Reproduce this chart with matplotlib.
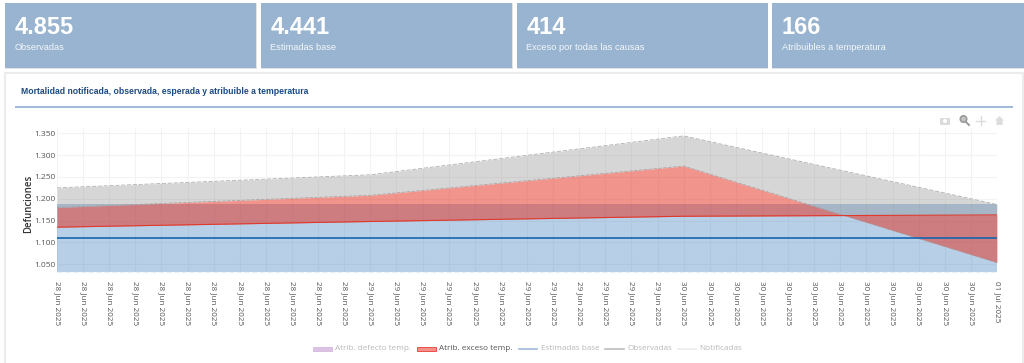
import numpy as np
import matplotlib
matplotlib.use("Agg")
import matplotlib.pyplot as plt
from matplotlib.patches import Rectangle, Circle, Polygon

W, H = 1024, 363

card_values = ["4.855", "4.441", "414", "166"]
card_labels = ["Observadas", "Estimadas base", "Exceso por todas las causas", "Atribuibles a temperatura"]
title = "Mortalidad notificada, observada, esperada y atribuible a temperatura"
y_title = "Defunciones"

node_hours = [0, 24, 48, 72]
observed = [1225, 1255, 1344, 1187]
excess_top = [1180, 1208, 1275, 1054]
excess_line = [1135, 1148, 1160, 1163]
base_line = [1111, 1111, 1111, 1111]
base_upper = [1188, 1188, 1188, 1188]
base_lower = [1033, 1033, 1033, 1033]

tick_hours = list(range(0, 74, 2))
tick_labels = ["28 Jun 2025"] * 12 + ["29 Jun 2025"] * 12 + ["30 Jun 2025"] * 12 + ["01 Jul 2025"]
y_ticks = [1050, 1100, 1150, 1200, 1250, 1300, 1350]
y_tick_labels = ["1.050", "1.100", "1.150", "1.200", "1.250", "1.300", "1.350"]

legend_names = ["Atrib. defecto temp.", "Atrib. exceso temp.", "Estimadas base", "Observadas", "Notificadas"]

fig = plt.figure(figsize=(W / 100, H / 100), dpi=100, facecolor="white")

# page overlay in pixel coordinates
bg = fig.add_axes([0, 0, 1, 1], zorder=0)
bg.set_xlim(0, W)
bg.set_ylim(H, 0)
bg.axis("off")

ARIAL = "Liberation Sans"
OPEN = "Open Sans"

card_x = [(5, 256), (261, 512), (517, 767.5), (772, 1024)]
for (x0, x1), v, l in zip(card_x, card_values, card_labels):
    bg.add_patch(Rectangle((x0 - 0.5, 3), x1 - x0 + 1, 66, fc="#e4e4e4", ec="none"))
    bg.add_patch(Rectangle((x0, 3), x1 - x0, 65, fc="#98b4d0", ec="none"))
    bg.text(x0 + 9.5, 34.5, v, family=ARIAL, weight="bold", fontsize=17, color="white", va="baseline", ha="left")
    bg.text(x0 + 9.5, 50, l, family=ARIAL, fontsize=6.7, color="#f4f7fa", va="baseline", ha="left")

bg.add_patch(Rectangle((5, 73), 1018, 295, fc="white", ec="#ececec", lw=1.5))
bg.text(21, 94, title, family=ARIAL, weight="bold", fontsize=6.25, color="#1a4a80", va="baseline", ha="left")
bg.plot([15, 1013], [107, 107], color="#8fadcf", lw=1.2, solid_capstyle="butt")

# modebar
icon = "#dcdcdc"
bg.add_patch(Rectangle((940, 117.5), 10, 7.5, fc=icon, ec="none"))
bg.add_patch(Circle((945, 121), 2, fc="white", ec="none"))
bg.add_patch(Circle((963.5, 119), 3.2, fc="#c4c4c4", ec="#9a9a9a", lw=1.2))
bg.plot([966, 969], [122, 125], color="#9a9a9a", lw=1.4)
bg.plot([976, 985], [120.5, 120.5], color=icon, lw=1)
bg.plot([980.5, 980.5], [116, 125], color=icon, lw=1)
bg.add_patch(Polygon([(995, 120.5), (999.5, 116), (1004, 120.5), (1002.5, 120.5), (1002.5, 125), (996.5, 125), (996.5, 120.5)], fc=icon, ec="none"))

# legend
sw = [(313, 332), (417, 436), (519, 537), (605, 624), (678, 696)]
tx = [335, 439, 541, 627, 699]
tc = ["#b8b8b8", "#555555", "#b8b8b8", "#b8b8b8", "#b8b8b8"]
ly = 349
bg.add_patch(Rectangle((sw[0][0], ly - 2.2), 19, 4.4, fc="#dcc3e6", ec="#cfb2dc", lw=0.5))
bg.add_patch(Rectangle((sw[1][0], ly - 2.2), 19, 4.4, fc="#f2908a", ec="#e8524a", lw=0.7))
bg.plot(sw[2], [ly, ly], color="#9fbad8", lw=1.2)
bg.plot(sw[3], [ly, ly], color="#bdbdbd", lw=1.2)
bg.plot(sw[4], [ly, ly], color="#ececec", lw=1.2)
for name, x, c in zip(legend_names, tx, tc):
    bg.text(x, ly, name, family=OPEN, fontsize=5.85, color=c, va="center", ha="left")

# chart
px0, px1, pyt, pyb = 57, 997, 128, 271.7
ax = fig.add_axes([px0 / W, 1 - pyb / H, (px1 - px0) / W, (pyb - pyt) / H], zorder=2)
ax.patch.set_alpha(0)
scale = 300 / 131
ymin = 1033
ymax = ymin + (pyb - pyt) * scale
ax.set_xlim(0, 72)
ax.set_ylim(ymin, ymax)

hrs = np.linspace(0, 72, 1441)
obs_f = np.interp(hrs, node_hours, observed)
top_f = np.interp(hrs, node_hours, excess_top)
line_f = np.interp(hrs, node_hours, excess_line)

ax.fill_between(node_hours, base_lower, base_upper, color="#1565b0", alpha=0.30, lw=0, zorder=2)
ax.fill_between(hrs, np.maximum(top_f, line_f), obs_f, color="#828282", alpha=0.32, lw=0, zorder=3)
ax.fill_between(hrs, line_f, top_f, color="#e22a1b", alpha=0.50, lw=0, zorder=4)

ax.plot(node_hours, observed, color="#b0b0b0", lw=0.6, ls=(0, (5, 2)), zorder=5)
ax.plot(node_hours, excess_top, color="#a89a9a", lw=0.5, ls=(0, (5, 2)), zorder=5)
ax.plot(node_hours, base_lower, color="#e8f0f8", lw=0.8, ls=(0, (5, 2)), zorder=5, clip_on=False)
ax.plot(node_hours, excess_line, color="#e0392b", lw=0.8, zorder=6)
ax.plot(node_hours, base_line, color="#1565b0", lw=1.2, zorder=6)

ax.set_xticks(tick_hours)
ax.set_xticklabels(tick_labels, rotation=270, family=OPEN, fontsize=5.9, color="#555555", ha="center", va="top")
ax.set_yticks(y_ticks)
ax.set_yticklabels(y_tick_labels, family=OPEN, fontsize=6.0, color="#555555")
ax.tick_params(axis="x", length=0, pad=6.5)
ax.tick_params(axis="y", length=0, pad=1.0)
ax.grid(True, color="#f3f3f3", lw=0.8, zorder=0)
ax.set_axisbelow(True)
for s in ax.spines.values():
    s.set_visible(False)

bg.text(28.5, 204, y_title, family=OPEN, weight="semibold", fontsize=6.9, color="#333333", rotation=90, va="center", ha="center")

fig.savefig("out.png", dpi=100)
